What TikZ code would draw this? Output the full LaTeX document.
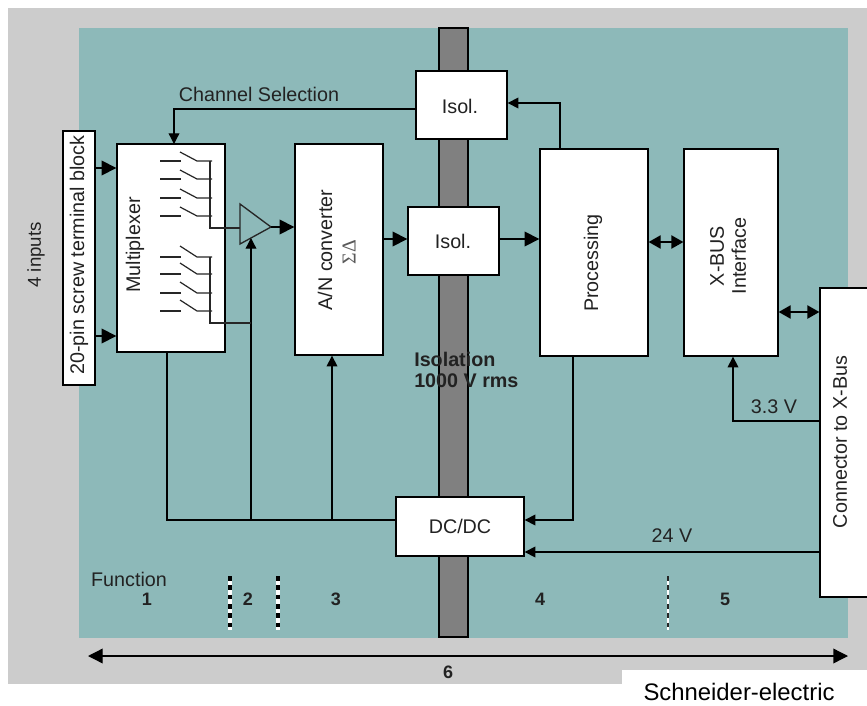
\documentclass[tikz,border=0pt]{standalone}
\usepackage{fontspec}
\setmainfont{Liberation Sans}
\newfontfamily\serifgreek{Liberation Serif}
\usetikzlibrary{arrows.meta,fit,calc}
\definecolor{teal}{HTML}{8DB9B9}
\definecolor{bggray}{HTML}{CCCCCC}
\definecolor{bargray}{HTML}{808080}
\definecolor{ink}{HTML}{222222}
\tikzset{
  box/.style={draw=black,fill=white,line width=1pt,inner sep=0pt},
  lab/.style={text=ink,font=\fontsize{14.8}{16}\selectfont,inner sep=0pt},
  num/.style={text=ink,font=\fontsize{14.8}{16}\selectfont\bfseries,inner sep=0pt},
  digit/.style={text=ink,font=\fontsize{13.5}{16}\selectfont\bfseries,inner sep=0pt},
  wire/.style={draw=black,line width=1pt},
  arr/.style={wire,-{Triangle[length=11pt,width=11pt]}},
  arrs/.style={wire,-{Triangle[length=8pt,width=8pt]}},
  biarr/.style={wire,{Triangle[length=9pt,width=10pt]}-{Triangle[length=9pt,width=10pt]}},
  sw/.style={draw=black!85,line width=.9pt},
}
\begin{document}
\begin{tikzpicture}[x=.75pt,y=-.75pt]
\useasboundingbox (0,0) rectangle (867,706);
\fill[white] (0,0) rectangle (867,706);
\fill[bggray] (8,8) rectangle (867,684);
\fill[white] (622,670) rectangle (867,706);
\fill[teal] (79,28) rectangle (848,638);
\draw[fill=bargray,line width=1pt] (439,28) rectangle (468,637);

\node[box,fit={(63,131)(95,385)}] (tb) {};
\node[box,fit={(117,144)(225,352)}] (mux) {};
\node[box,fit={(295,144)(383,355)}] (adc) {};
\node[box,fit={(416,71)(507,139)}] (isoa) {};
\node[box,fit={(408,207)(499,275)}] (isob) {};
\node[box,fit={(540,149)(648,356)}] (proc) {};
\node[box,fit={(684,149)(778,356)}] (xbus) {};
\node[box,fit={(820,288)(870,597)}] (conn) {};
\node[box,fit={(396,497)(524,556)}] (dcdc) {};

\node[lab,rotate=90] (tbl) at (79,255) {20-pin screw terminal block};
\node[lab,rotate=90] (muxl) at (135,245) {Multiplexer};
\node[lab,rotate=90] (adcl) at (325,250) {A/N converter};
\node[lab,rotate=90,text=ink!75] (sd) at (349,252) {\serifgreek ΣΔ};
\node[lab] (isoal) at (460,106) {Isol.};
\node[lab] (isobl) at (453,241) {Isol.};
\node[lab,rotate=90] (procl) at (593,263) {Processing};
\node[lab,rotate=90,align=center,font=\fontsize{14.8}{16.5}\selectfont] (xbusl) at (728,256) {X-BUS\\Interface};
\node[lab,rotate=90] (connl) at (840,442) {Connector to X-Bus};
\node[lab] (dcl) at (460,526) {DC/DC};
\node[lab,rotate=90,font=\fontsize{14}{16}\selectfont] (inp) at (36,255) {4 inputs};
\node[lab] (chan) at (259,94) {Channel Selection};
\node[lab] (v33) at (774,407) {3.3 V};
\node[lab] (v24) at (672,536) {24 V};
\node[num,anchor=west,align=left] (isol) at (414,370) {Isolation\\1000 V rms};
\node[lab] (func) at (129,579) {Function};
\node[digit] (n1) at (147,599) {1};
\node[digit] (n2) at (248,599) {2};
\node[digit] (n3) at (336,599) {3};
\node[digit] (n4) at (540,599) {4};
\node[digit] (n5) at (725,599) {5};
\node[digit] (n6) at (448,672) {6};
\node[lab,text=black,font=\fontsize{17.9}{20}\selectfont] (src) at (739,692) {Schneider-electric};

% amplifier
\coordinate (ampa) at (240,204);
\coordinate (ampb) at (240,244);
\coordinate (ampt) at (271,227);
\draw[draw=black!85,line width=1pt,fill=teal] (ampa) -- (ampt) -- (ampb) -- cycle;

% inputs
\draw[arr] (tb.east |- 0,168) -- (mux.west |- 0,168);
\draw[arr] (tb.east |- 0,336) -- (mux.west |- 0,336);
% channel selection
\draw[arrs] (isoa.west |- 0,109) -- (174,109) -- (174,144);
% isolators and signal path
\draw[arrs] (proc.north -| 560,0) -- (560,103) -- (isoa.east |- 0,103);
\draw[arr] (ampt) -- (adc.west |- ampt);
\draw[arr] (adc.east |- 0,239) -- (isob.west |- 0,239);
\draw[arr] (isob.east |- 0,239) -- (proc.west |- 0,239);
\draw[biarr] (proc.east |- 0,242) -- (xbus.west |- 0,242);
\draw[biarr] (xbus.east |- 0,312) -- (conn.west |- 0,312);
% power
\draw[arrs] (conn.west |- 0,421) -- (733,421) -- (xbus.south -| 733,0);
\draw[arrs] (conn.west |- 0,552) -- (dcdc.east |- 0,552);
\draw[wire] (dcdc.west |- 0,520) -- (167,520) -- (mux.south -| 167,0);
\draw[arrs] (251,520) -- (251,238);
\draw[arrs] (332,520) -- (adc.south -| 332,0);
\draw[arrs] (proc.south -| 573,0) -- (573,520) -- (dcdc.east |- 0,520);

% switches
\foreach \y in {161,179,198,216}{
  \draw[sw] (160,\y) -- (181,\y);
  \draw[sw] (180,\y-9) -- (197,\y) -- (212,\y);
}
\foreach \y in {257,274,293,311}{
  \draw[sw] (160,\y) -- (181,\y);
  \draw[sw] (180,\y-11) -- (197,\y) -- (212,\y);
}
\draw[sw] (210,161) -- (210,228) -- (240,228);
\draw[sw] (210,257) -- (210,323) -- (251,323);

% function separators
\foreach \x in {230,278}{
  \draw[white,line width=2.6pt] (\x,576) -- (\x,630);
  \draw[black,line width=2.6pt,dash pattern=on 3.5pt off 3.5pt] (\x,576) -- (\x,630);
}
\draw[white,line width=1.1pt] (668,576) -- (668,630);
\draw[black!85,line width=1.1pt,dash pattern=on 3.5pt off 3.5pt] (668,576) -- (668,630);

% overall span
\coordinate (spanl) at (88,656);
\coordinate (spanr) at (848,656);
\draw[wire,{Triangle[length=11pt,width=11pt]}-{Triangle[length=11pt,width=11pt]}] (spanl) -- (spanr);
\end{tikzpicture}
\end{document}
